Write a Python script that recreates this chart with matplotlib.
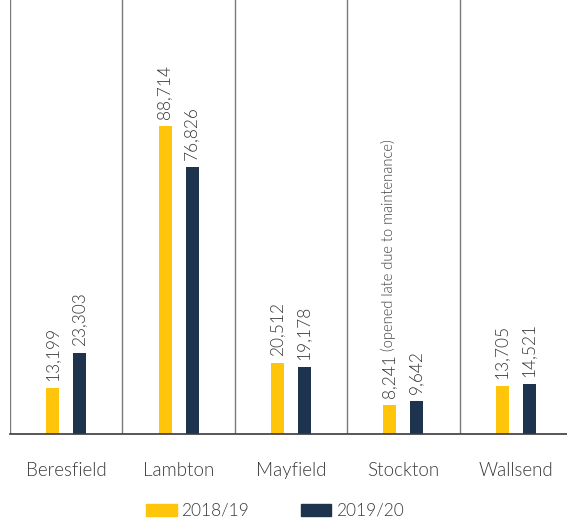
import matplotlib.pyplot as plt
from matplotlib.patches import Patch

pools = ["Beresfield", "Lambton", "Mayfield", "Stockton", "Wallsend"]
visits_1819 = [13199, 88714, 20512, 8241, 13705]
visits_1920 = [23303, 76826, 19178, 9642, 14521]
notes_1819 = ["", "", "", " (opened late due to maintenance)", ""]
seasons = ["2018/19", "2019/20"]

yellow = "#FFC50A"
navy = "#1E334D"
grey_text = "#3a3a3a"

plt.rcParams['font.family'] = ['Lato', 'DejaVu Sans']
plt.rcParams['font.weight'] = 300

fig = plt.figure(figsize=(5.67, 5.20), dpi=100)
ax = fig.add_axes([10 / 567, 86 / 520, 562 / 567, 434 / 520])

x = list(range(len(pools)))
off = 0.12
w = 0.115
ax.bar([i - off for i in x], visits_1819, width=w, color=yellow)
ax.bar([i + off for i in x], visits_1920, width=w, color=navy)

# value labels, rotated above the bars
pad = 2000
num_labels = []
for i in x:
    t = ax.text(i - off, visits_1819[i] + pad, f"{visits_1819[i]:,}", rotation=90,
                ha='center', va='bottom', fontsize=12.5, color=grey_text)
    num_labels.append(t)
    ax.text(i + off, visits_1920[i] + pad, f"{visits_1920[i]:,}", rotation=90,
            ha='center', va='bottom', fontsize=12.5, color=grey_text)

# small notes go right after the number (e.g. Stockton)
fig.canvas.draw()
for i in x:
    if notes_1819[i]:
        h = num_labels[i].get_window_extent().height * 72 / fig.dpi
        ax.annotate(notes_1819[i], xy=(i - off, visits_1819[i] + pad),
                    xytext=(-1.0, h), textcoords='offset points',
                    rotation=90, ha='center', va='bottom', fontsize=10.5,
                    color=grey_text, annotation_clip=False)

for b in [i - 0.5 for i in range(len(pools) + 1)]:
    ax.axvline(b, color="#7a7a7a", lw=1)

ax.set_xlim(-0.5, 4.5)
ax.set_ylim(0, 125000)
ax.set_yticks([])
ax.set_xticks(x)
ax.set_xticklabels(pools, fontsize=13.5, color=grey_text)
ax.tick_params(axis='x', length=0, pad=20)
for s in ['top', 'right', 'left']:
    ax.spines[s].set_visible(False)
ax.spines['bottom'].set_color("#3a3a3a")
ax.spines['bottom'].set_linewidth(1.2)

handles = [Patch(color=yellow), Patch(color=navy)]
fig.legend(handles, seasons, loc='center', bbox_to_anchor=(275 / 567, 9 / 520),
           ncol=2, frameon=False, fontsize=12.5, handlelength=1.75, handleheight=0.75,
           columnspacing=3.0, handletextpad=0.25, labelcolor=grey_text)

fig.savefig("out.png", dpi=100)
